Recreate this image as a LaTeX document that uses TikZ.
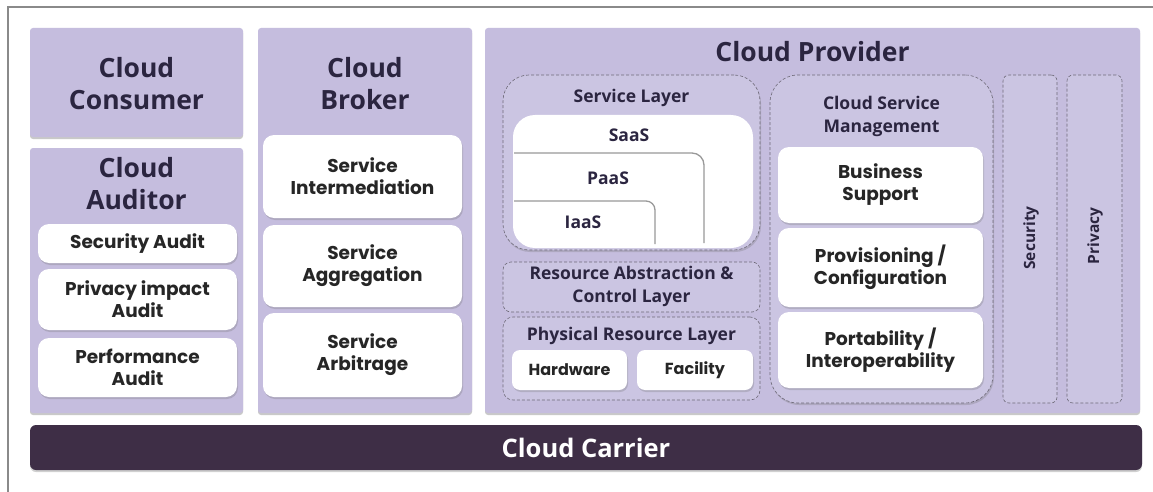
\documentclass[tikz,border=0pt]{standalone}
\usepackage{fontspec}
\setmainfont{Open Sans}
\newfontfamily\boxfont{Poppins}
\usetikzlibrary{shadows}
\definecolor{lav}{HTML}{C5BDDE}
\definecolor{lavin}{HTML}{CBC5E2}
\definecolor{carrier}{HTML}{3E2E46}
\definecolor{head}{HTML}{2B2540}
\definecolor{txt}{HTML}{262626}
\definecolor{frame}{HTML}{8A8A8A}
\definecolor{edge}{HTML}{6E6A78}
\tikzset{
  col/.style={fill=lav, draw=none, rounded corners=3pt, inner sep=0pt,
    drop shadow={opacity=0.35, shadow xshift=0pt, shadow yshift=-2pt, fill=black!60}},
  wbox/.style={fill=white, draw=none, rounded corners=11pt, inner sep=0pt, align=center,
    font=\boxfont\bfseries\fontsize{18.5}{22}\selectfont, text=txt,
    drop shadow={opacity=0.25, shadow xshift=1pt, shadow yshift=-2pt, fill=black!60}},
  layer/.style={fill=lavin, draw=edge, densely dashed, line width=0.6pt, inner sep=0pt},
  hd/.style={font=\bfseries\fontsize{26.5}{32}\selectfont, text=head, align=center, inner sep=0pt},
  cl/.style={font=\bfseries\fontsize{17.5}{23}\selectfont, text=head, align=center, inner sep=0pt},
  gl/.style={draw=black!40, line width=1.3pt, rounded corners=12pt},
}
\begin{document}
\begin{tikzpicture}[x=1pt,y=-1pt]
\useasboundingbox (0,0) rectangle (1153,492);
\fill[white] (0,0) rectangle (1153,492);
% frame
\draw[frame, line width=2pt] (8,492) -- (8,7) -- (1153,7);
% consumer
\node[col, minimum width=213pt, minimum height=109pt] (cons) at (136.5,82.5) {};
\node[hd] (consT) at (136.5,84) {Cloud\\Consumer};
% auditor
\node[col, minimum width=213pt, minimum height=265pt] (aud) at (136.5,280.5) {};
\node[hd] (audT) at (136.5,184) {Cloud\\Auditor};
\node[wbox, minimum width=199pt, minimum height=39pt] (sa) at (137.5,243.5) {Security Audit};
\node[wbox, minimum width=199pt, minimum height=61pt] (pa) at (137.5,299.5) {Privacy impact\\Audit};
\node[wbox, minimum width=199pt, minimum height=59pt] (pe) at (137.5,367.5) {Performance\\Audit};
% broker
\node[col, minimum width=214pt, minimum height=385pt] (brk) at (365,220.5) {};
\node[hd] (brkT) at (365,84) {Cloud\\Broker};
\node[wbox, minimum width=199pt, minimum height=83pt] (si) at (362.5,176.5) {Service\\Intermediation};
\node[wbox, minimum width=199pt, minimum height=82pt] (sg) at (362.5,266) {Service\\Aggregation};
\node[wbox, minimum width=199pt, minimum height=84pt] (sr) at (362.5,355) {Service\\Arbitrage};
% provider
\node[col, minimum width=655pt, minimum height=385pt] (prov) at (812.5,220.5) {};
\node[hd] (provT) at (812.5,52) {Cloud Provider};
% service layer
\node[layer, rounded corners=26pt, minimum width=257pt, minimum height=175pt,
  drop shadow={opacity=0.25, shadow xshift=1pt, shadow yshift=-2pt, fill=black!60}] (sl) at (631.5,162.5) {};
\node[cl] (slT) at (631.5,98) {Service Layer};
\node[fill=white, draw=none, rounded corners=22pt, minimum width=240pt, minimum height=133pt, inner sep=0pt] (saas) at (633,181.5) {};
\node[cl] (saasT) at (629,135) {SaaS};
\coordinate (pA) at (514,153);
\coordinate (pB) at (704,153);
\coordinate (pC) at (704,243);
\draw[gl] (pA) -- (pB) -- (pC);
\node[cl] (paasT) at (608,178) {PaaS};
\coordinate (iA) at (514,201);
\coordinate (iB) at (655,201);
\coordinate (iC) at (655,244);
\draw[gl, rounded corners=9pt] (iA) -- (iB) -- (iC);
\node[cl] (iaasT) at (583,222) {IaaS};
% resource abstraction
\node[layer, rounded corners=8pt, minimum width=257pt, minimum height=50pt] (ra) at (631.5,287) {};
\node[cl, font=\bfseries\fontsize{17.5}{23}\selectfont] (raT) at (631.5,286) {Resource Abstraction \&\\Control Layer};
% physical resource
\node[layer, rounded corners=10pt, minimum width=257pt, minimum height=83pt] (pr) at (631.5,358.5) {};
\node[cl] (prT) at (631.5,336) {Physical Resource Layer};
\node[wbox, rounded corners=8pt, minimum width=115pt, minimum height=40pt, font=\boxfont\bfseries\fontsize{16}{19}\selectfont] (hw) at (569.5,370) {Hardware};
\node[wbox, rounded corners=8pt, minimum width=116pt, minimum height=40pt, font=\boxfont\bfseries\fontsize{16}{19}\selectfont] (fc) at (695,370) {Facility};
% cloud service management
\node[layer, rounded corners=28pt, minimum width=223pt, minimum height=328pt,
  drop shadow={opacity=0.25, shadow xshift=1pt, shadow yshift=-2pt, fill=black!60}] (csm) at (881.5,239) {};
\node[cl] (csmT) at (881.5,116) {Cloud Service\\Management};
\node[wbox, minimum width=205pt, minimum height=76pt] (bs) at (880.5,185) {Business\\Support};
\node[wbox, minimum width=205pt, minimum height=79pt] (pc) at (880.5,267.5) {Provisioning /\\Configuration};
\node[wbox, minimum width=205pt, minimum height=76pt] (pi) at (880.5,350) {Portability /\\Interoperability};
% security & privacy
\node[layer, rounded corners=6pt, minimum width=54pt, minimum height=328pt] (sec) at (1030,239) {};
\node[cl, rotate=90, font=\bfseries\fontsize{15.5}{19}\selectfont] (secT) at (1031,238) {Security};
\node[layer, rounded corners=6pt, minimum width=55pt, minimum height=328pt] (pri) at (1094.5,239) {};
\node[cl, rotate=90, font=\bfseries\fontsize{15.5}{19}\selectfont] (priT) at (1095,236) {Privacy};
% carrier
\node[fill=carrier, rounded corners=6pt, minimum width=1112pt, minimum height=45pt, inner sep=0pt,
  text=white, font=\bfseries\fontsize{25.5}{30}\selectfont,
  drop shadow={opacity=0.3, shadow xshift=0pt, shadow yshift=-2pt, fill=black!60}] (car) at (586,447.5) {Cloud Carrier};
\end{tikzpicture}
\end{document}
